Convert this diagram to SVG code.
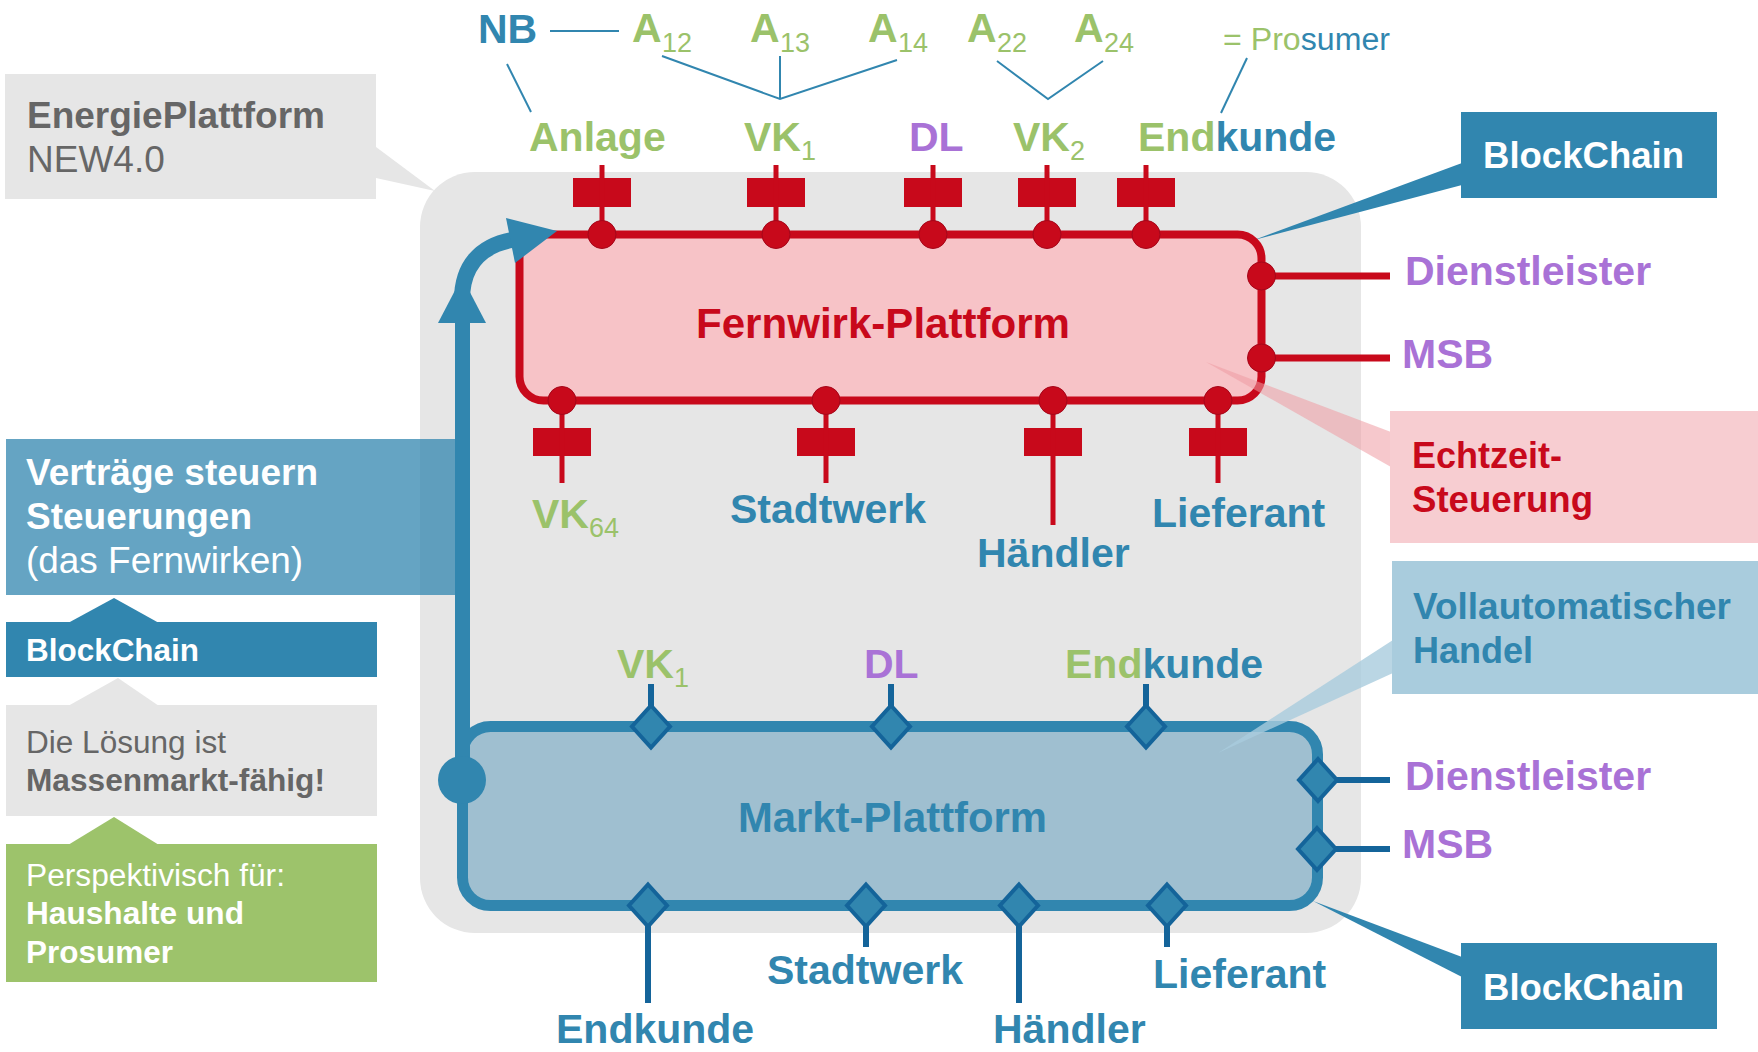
<svg xmlns="http://www.w3.org/2000/svg" width="1758" height="1052" viewBox="0 0 1758 1052">
<style>
text{font-family:"Liberation Sans",Arial,Helvetica,sans-serif}
.b{font-weight:bold}
.lbl{font-size:41px;font-weight:bold}
.sub{font-size:27px;font-weight:normal}
.g{fill:#9BC26A}
.bl{fill:#3186AF}
.pu{fill:#A972D6}
.rd{fill:#C8091B}
.gy{fill:#666666}
.w{fill:#ffffff}
.thin{stroke:#3186AF;stroke-width:2;fill:none}
.rstem{stroke:#C8091B;stroke-width:5}
.rline{stroke:#C8091B;stroke-width:7}
.rsq{fill:#C8091B}
.rdot{fill:#C8091B;stroke:#A5071A;stroke-width:1}
.bstem{stroke:#14649A;stroke-width:6}
.dia{fill:#3186AF;stroke:#14649A;stroke-width:4}
</style>
<defs>
<path id="dm" d="M0,-21 L19,0 L0,21 L-19,0 Z"/>
</defs>
<rect width="1758" height="1052" fill="#ffffff"/>

<!-- big gray platform area -->
<g id="energieplattform-area">
<rect x="420" y="172" width="941" height="761" rx="55" ry="55" fill="#E6E6E6"/>
</g>

<!-- left callout: EnergiePlattform -->
<g id="callout-energieplattform">
<polygon points="376,147 435,191 376,178" fill="#E6E6E6"/>
<rect x="5" y="74" width="371" height="125" fill="#E6E6E6"/>
<text x="27" y="128" class="gy b" font-size="37" textLength="298" lengthAdjust="spacingAndGlyphs">EnergiePlattform</text>
<text x="27" y="172" class="gy" font-size="37">NEW4.0</text>
</g>

<!-- left column boxes -->
<g id="box-vertraege">
<rect x="6" y="439" width="449" height="156" fill="#3186AF" fill-opacity="0.75"/>
<text x="26" y="485" class="w b" font-size="36.5" textLength="292" lengthAdjust="spacingAndGlyphs">Verträge steuern</text>
<text x="26" y="529" class="w b" font-size="36.5" textLength="226" lengthAdjust="spacingAndGlyphs">Steuerungen</text>
<text x="26" y="573" class="w" font-size="36.5" textLength="277" lengthAdjust="spacingAndGlyphs">(das Fernwirken)</text>
</g>
<g id="box-blockchain-left">
<polygon points="68,623 114,598 159,623" fill="#3186AF"/>
<rect x="6" y="622" width="371" height="55" fill="#3186AF"/>
<text x="26" y="661" class="w b" font-size="31" textLength="173" lengthAdjust="spacingAndGlyphs">BlockChain</text>
</g>
<g id="box-massenmarkt">
<polygon points="68,706 118,678 159,706" fill="#E6E6E6"/>
<rect x="6" y="705" width="371" height="111" fill="#E6E6E6"/>
<text x="26" y="753" class="gy" font-size="31" textLength="200" lengthAdjust="spacingAndGlyphs">Die Lösung ist</text>
<text x="26" y="791" class="gy b" font-size="31" textLength="299" lengthAdjust="spacingAndGlyphs">Massenmarkt-fähig!</text>
</g>
<g id="box-perspektivisch">
<polygon points="68,845 114,817 159,845" fill="#9DC36B"/>
<rect x="6" y="844" width="371" height="138" fill="#9DC36B"/>
<text x="26" y="886" class="w" font-size="31" textLength="259" lengthAdjust="spacingAndGlyphs">Perspektivisch für:</text>
<text x="26" y="924" class="w b" font-size="31" textLength="218" lengthAdjust="spacingAndGlyphs">Haushalte und</text>
<text x="26" y="963" class="w b" font-size="31" textLength="147" lengthAdjust="spacingAndGlyphs">Prosumer</text>
</g>

<!-- right callouts -->
<g id="callout-blockchain-top">
<polygon points="1462,163 1254,240 1462,185" fill="#3186AF"/>
<rect x="1461" y="112" width="256" height="86" fill="#3186AF"/>
<text x="1483" y="168" class="w b" font-size="36" textLength="201" lengthAdjust="spacingAndGlyphs">BlockChain</text>
</g>
<g id="callout-blockchain-bottom">
<polygon points="1462,957 1313,901 1462,977" fill="#3186AF"/>
<rect x="1461" y="943" width="256" height="86" fill="#3186AF"/>
<text x="1483" y="1000" class="w b" font-size="36" textLength="201" lengthAdjust="spacingAndGlyphs">BlockChain</text>
</g>

<!-- Fernwirk-Plattform -->
<g id="fernwirk-plattform">
<path d="M519.5,234.5 H1237.5 A24,24 0 0 1 1261.5,258.5 V376.5 A24,24 0 0 1 1237.5,400.5 H543.5 A24,24 0 0 1 519.5,376.5 Z" fill="#F7C3C7" stroke="#C8091B" stroke-width="8"/>
<text x="696" y="338" class="rd b" font-size="42" textLength="374" lengthAdjust="spacingAndGlyphs">Fernwirk-Plattform</text>
</g>

<!-- Markt-Plattform -->
<g id="markt-plattform">
<rect x="462.5" y="726.5" width="855" height="179" rx="28" ry="28" fill="#9FBFD0" stroke="#3186AF" stroke-width="11"/>
<text x="738" y="832" class="bl b" font-size="42" textLength="309" lengthAdjust="spacingAndGlyphs">Markt-Plattform</text>
</g>

<!-- connectors -->
<g id="connectors">
<!-- top label links -->
<line class="thin" x1="550" y1="31" x2="619" y2="31"/>
<line class="thin" x1="507" y1="64" x2="531" y2="112"/>
<polyline class="thin" points="662,56 780,99 897,60"/>
<line class="thin" x1="780" y1="56" x2="780" y2="99"/>
<polyline class="thin" points="997,61 1048,99 1103,61"/>
<line class="thin" x1="1247" y1="58" x2="1221" y2="113"/>

<!-- red ports top -->
<g id="fw-ports-top">
<rect class="rsq" x="573" y="178" width="58" height="29"/><line class="rstem" x1="602" y1="165" x2="602" y2="234"/><circle class="rdot" cx="602" cy="234.5" r="14"/>
<rect class="rsq" x="747" y="178" width="58" height="29"/><line class="rstem" x1="776" y1="165" x2="776" y2="234"/><circle class="rdot" cx="776" cy="234.5" r="14"/>
<rect class="rsq" x="904" y="178" width="58" height="29"/><line class="rstem" x1="933" y1="165" x2="933" y2="234"/><circle class="rdot" cx="933" cy="234.5" r="14"/>
<rect class="rsq" x="1018" y="178" width="58" height="29"/><line class="rstem" x1="1047" y1="165" x2="1047" y2="234"/><circle class="rdot" cx="1047" cy="234.5" r="14"/>
<rect class="rsq" x="1117" y="178" width="58" height="29"/><line class="rstem" x1="1146" y1="165" x2="1146" y2="234"/><circle class="rdot" cx="1146" cy="234.5" r="14"/>
</g>
<!-- red ports bottom -->
<g id="fw-ports-bottom">
<rect class="rsq" x="533" y="428" width="58" height="28"/><line class="rstem" x1="562" y1="400" x2="562" y2="483"/><circle class="rdot" cx="562" cy="400.5" r="14"/>
<rect class="rsq" x="797" y="428" width="58" height="28"/><line class="rstem" x1="826" y1="400" x2="826" y2="483"/><circle class="rdot" cx="826" cy="400.5" r="14"/>
<rect class="rsq" x="1024" y="428" width="58" height="28"/><line class="rstem" x1="1053" y1="400" x2="1053" y2="525"/><circle class="rdot" cx="1053" cy="400.5" r="14"/>
<rect class="rsq" x="1189" y="428" width="58" height="28"/><line class="rstem" x1="1218" y1="400" x2="1218" y2="483"/><circle class="rdot" cx="1218" cy="400.5" r="14"/>
</g>
<!-- red ports right -->
<g id="fw-ports-right">
<line class="rline" x1="1261" y1="276" x2="1390" y2="276"/><circle class="rdot" cx="1261.5" cy="276" r="14"/>
<line class="rline" x1="1261" y1="358" x2="1390" y2="358"/><circle class="rdot" cx="1261.5" cy="358" r="14"/>
</g>

<!-- blue ports -->
<g id="mk-ports">
<line class="bstem" x1="651" y1="684" x2="651" y2="706"/><use href="#dm" class="dia" x="651" y="726.5"/>
<line class="bstem" x1="891" y1="684" x2="891" y2="706"/><use href="#dm" class="dia" x="891" y="726.5"/>
<line class="bstem" x1="1146" y1="684" x2="1146" y2="706"/><use href="#dm" class="dia" x="1146" y="726.5"/>
<line class="bstem" x1="648" y1="926" x2="648" y2="1003"/><use href="#dm" class="dia" x="648" y="905.5"/>
<line class="bstem" x1="866" y1="926" x2="866" y2="947"/><use href="#dm" class="dia" x="866" y="905.5"/>
<line class="bstem" x1="1019" y1="926" x2="1019" y2="1003"/><use href="#dm" class="dia" x="1019" y="905.5"/>
<line class="bstem" x1="1167" y1="926" x2="1167" y2="947"/><use href="#dm" class="dia" x="1167" y="905.5"/>
<line class="bstem" x1="1336" y1="780" x2="1390" y2="780"/><use href="#dm" class="dia" x="1318" y="780"/>
<line class="bstem" x1="1336" y1="849" x2="1390" y2="849"/><use href="#dm" class="dia" x="1317" y="849"/>
</g>

<!-- blue arrow from Markt to Fernwirk -->
<g id="arrow-markt-fernwirk" fill="#3186AF">
<line x1="462.5" y1="781" x2="462.5" y2="320" stroke="#3186AF" stroke-width="15"/>
<polygon points="438,323 486,323 462,277"/>
<path d="M462,300 C462,266 480,246 512,240" fill="none" stroke="#3186AF" stroke-width="16"/>
<polygon points="506,218 557,231 515,263"/>
<circle cx="462" cy="780" r="24"/>
</g>
</g>

<!-- semi-transparent callouts on top -->
<g id="callout-echtzeit">
<polygon points="1391,432 1206,362 1391,467" fill="#EE9AA3" fill-opacity="0.55"/>
<rect x="1390" y="411" width="368" height="132" fill="#F7CDD1"/>
<text x="1412" y="468" class="rd b" font-size="36">Echtzeit-</text>
<text x="1412" y="512" class="rd b" font-size="36" textLength="181" lengthAdjust="spacingAndGlyphs">Steuerung</text>
</g>
<g id="callout-handel">
<polygon points="1393,640 1218,753 1393,673" fill="#A9CCDD" fill-opacity="0.8"/>
<rect x="1392" y="561" width="366" height="133" fill="#A9CCDD"/>
<text x="1413" y="619" class="bl b" font-size="36" textLength="318" lengthAdjust="spacingAndGlyphs">Vollautomatischer</text>
<text x="1413" y="663" class="bl b" font-size="36">Handel</text>
</g>

<!-- top labels -->
<g id="label-nb"><text x="478" y="43" class="lbl bl">NB</text></g>
<g id="label-a12"><text x="632" y="42" class="lbl g">A<tspan class="sub" x="662" y="52">12</tspan></text></g>
<g id="label-a13"><text x="750" y="42" class="lbl g">A<tspan class="sub" x="780" y="52">13</tspan></text></g>
<g id="label-a14"><text x="868" y="42" class="lbl g">A<tspan class="sub" x="898" y="52">14</tspan></text></g>
<g id="label-a22"><text x="967" y="42" class="lbl g">A<tspan class="sub" x="997" y="52">22</tspan></text></g>
<g id="label-a24"><text x="1074" y="42" class="lbl g">A<tspan class="sub" x="1104" y="52">24</tspan></text></g>
<g id="label-prosumer"><text x="1223" y="50" font-size="31" class="g" textLength="167" lengthAdjust="spacingAndGlyphs">= Pro<tspan class="bl">sumer</tspan></text></g>

<g id="label-anlage"><text x="529" y="151" class="lbl g">Anlage</text></g>
<g id="label-vk1-top"><text x="744" y="151" class="lbl g">VK<tspan class="sub" x="801" y="160">1</tspan></text></g>
<g id="label-dl-top"><text x="909" y="151" class="lbl pu">DL</text></g>
<g id="label-vk2"><text x="1013" y="151" class="lbl g">VK<tspan class="sub" x="1070" y="160">2</tspan></text></g>
<g id="label-endkunde-top"><text x="1138" y="151" class="lbl g">End<tspan class="bl">kunde</tspan></text></g>

<g id="label-vk64"><text x="532" y="528" class="lbl g">VK<tspan class="sub" x="589" y="537">64</tspan></text></g>
<g id="label-stadtwerk-fw"><text x="730" y="523" class="lbl bl">Stadtwerk</text></g>
<g id="label-haendler-fw"><text x="977" y="567" class="lbl bl">Händler</text></g>
<g id="label-lieferant-fw"><text x="1152" y="527" class="lbl bl">Lieferant</text></g>
<g id="label-dienstleister-fw"><text x="1405" y="285" class="lbl pu">Dienstleister</text></g>
<g id="label-msb-fw"><text x="1402" y="368" class="lbl pu">MSB</text></g>

<g id="label-vk1-mk"><text x="617" y="678" class="lbl g">VK<tspan class="sub" x="674" y="687">1</tspan></text></g>
<g id="label-dl-mk"><text x="864" y="678" class="lbl pu">DL</text></g>
<g id="label-endkunde-mk"><text x="1065" y="678" class="lbl g">End<tspan class="bl">kunde</tspan></text></g>
<g id="label-dienstleister-mk"><text x="1405" y="790" class="lbl pu">Dienstleister</text></g>
<g id="label-msb-mk"><text x="1402" y="858" class="lbl pu">MSB</text></g>
<g id="label-endkunde-bottom"><text x="556" y="1043" class="lbl bl">Endkunde</text></g>
<g id="label-stadtwerk-mk"><text x="767" y="984" class="lbl bl">Stadtwerk</text></g>
<g id="label-haendler-mk"><text x="993" y="1043" class="lbl bl">Händler</text></g>
<g id="label-lieferant-mk"><text x="1153" y="988" class="lbl bl">Lieferant</text></g>
</svg>
